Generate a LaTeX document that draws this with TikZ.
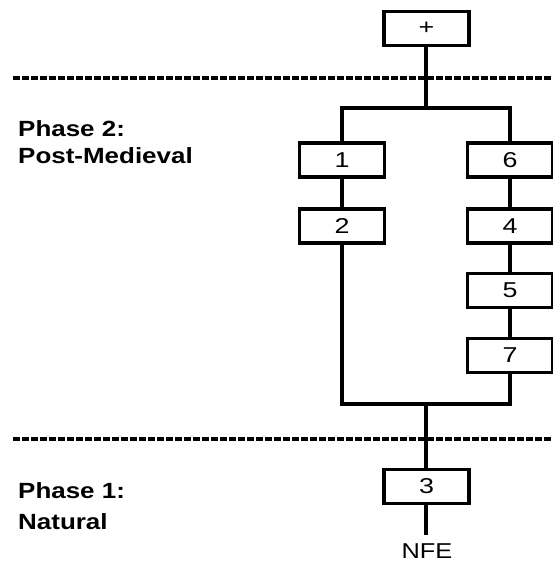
\documentclass[tikz,border=0pt]{standalone}
\usepackage{fontspec}
\setmainfont{Liberation Sans}
\usepackage{graphicx}
\newcommand{\hs}[1]{\scalebox{1.18}[1]{#1}}
\newcommand{\hd}[1]{\scalebox{1.25}[1]{#1}}
\begin{document}
\begin{tikzpicture}[x=1pt,y=-1pt,
  unit/.style={draw,line width=3.3pt,minimum width=85pt,minimum height=34pt,inner sep=0pt,
    font=\fontsize{21.5}{24}\selectfont},
  conn/.style={line width=3.3pt},
  phase/.style={line width=3.3pt,dash pattern=on 6.5pt off 2.5pt},
  lbl/.style={anchor=base west,inner sep=0pt,font=\fontsize{22}{27}\selectfont\bfseries,align=left}]
\useasboundingbox (0,0) rectangle (553,565);
\node[unit] (plus) at (426.5,28.5) {\hd{+}};
\node[unit] (n1) at (342,160) {\hd{1}};
\node[unit] (n2) at (342,226) {\hd{2}};
\node[unit] (n6) at (510,160) {\hd{6}};
\node[unit] (n4) at (510,226) {\hd{4}};
\node[unit] (n5) at (510,290.5) {\hd{5}};
\node[unit] (n7) at (510,355.5) {\hd{7}};
\node[unit] (n3) at (426.5,486.5) {\hd{3}};
\node[inner sep=0pt,anchor=base,font=\fontsize{21.5}{25}\selectfont] (nfe) at (427,558) {\hs{NFE}};
\coordinate (nfetop) at (426,535);
\coordinate (tj) at (426,108);
\coordinate (bj) at (426,404);
\draw[conn] (plus.south -| tj) -- (tj);
\draw[conn] (n1) |- (tj) -| (n6);
\draw[conn] (n1) -- (n2);
\draw[conn] (n6) -- (n4);
\draw[conn] (n4) -- (n5);
\draw[conn] (n5) -- (n7);
\draw[conn] (n2) |- (bj) -| (n7);
\draw[conn] (bj) -- (n3.north -| bj);
\draw[conn] (n3.south -| nfetop) -- (nfetop);
\coordinate (da) at (13,78);
\coordinate (db) at (553,78);
\coordinate (dc) at (13,439);
\coordinate (dd) at (553,439);
\draw[phase] (da) -- (db);
\draw[phase] (dc) -- (dd);
\node[lbl] (p2a) at (18,136) {\hs{Phase 2:}};
\node[lbl] (p2b) at (18,163) {\hs{Post-Medieval}};
\node[lbl] (p1a) at (18,498) {\hs{Phase 1:}};
\node[lbl] (p1b) at (18,529) {\hs{Natural}};
\end{tikzpicture}
\end{document}
